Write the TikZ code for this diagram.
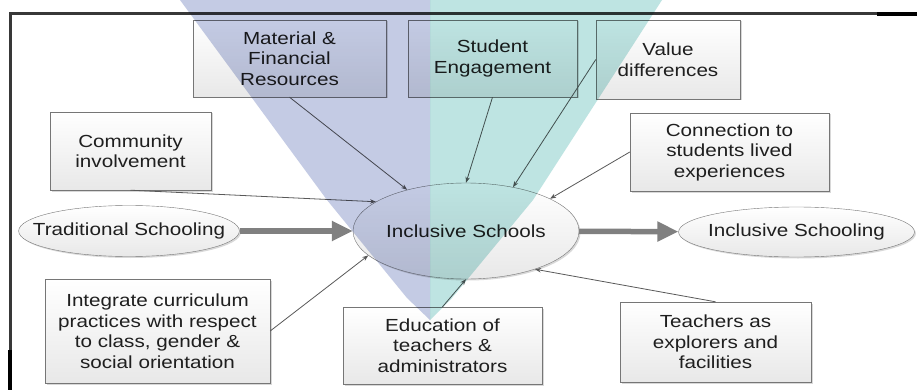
\documentclass[tikz,border=0pt]{standalone}
\usepackage{fontspec}
\setmainfont{Liberation Sans}[FakeStretch=1.18]
\usetikzlibrary{arrows.meta,positioning,shapes,shadows}

\definecolor{boxline}{RGB}{118,118,118}
\definecolor{flowgray}{RGB}{128,128,128}
\definecolor{wmblue}{RGB}{196,203,228}
\definecolor{wmteal}{RGB}{190,228,226}

\tikzset{
  box/.style={draw=boxline,rectangle,align=center,inner sep=0pt,
    top color=white,bottom color=black!9,text=black!88,
    drop shadow={shadow xshift=1.5pt,shadow yshift=-1.5pt,opacity=.3},
    font=\fontsize{17.5}{20.5}\selectfont},
  oval/.style={box,ellipse},
  link/.style={-{Stealth[length=6pt,width=4.5pt]},draw=black!65,line width=.8pt},
  flow/.style={-{Triangle[length=21pt,width=19pt]},draw=flowgray,line width=5.5pt}
}

\begin{document}
\begin{tikzpicture}[x=1pt,y=-1pt]
\useasboundingbox (0,0) rectangle (917,390);
\fill[white] (0,0) rectangle (917,390);

% frame
\draw[line width=3pt,black!78] (10,390) -- (10,14) -- (917,14);
\draw[line width=3.5pt,black] (877,14) -- (917,14);
\draw[line width=3.5pt,black] (10,350) -- (10,390);

% factors
\node[box,minimum width=193pt,minimum height=77pt] (mat) at (289.5,58.5) {Material \&\\Financial\\Resources};
\node[box,minimum width=169pt,minimum height=77pt] (eng) at (492.5,58.5) {Student\\Engagement};
\node[box,minimum width=144pt,minimum height=79pt] (val) at (668,59.5) {Value\\differences};
\node[box,minimum width=161pt,minimum height=78pt] (com) at (130.5,151) {Community\\involvement};
\node[box,minimum width=199pt,minimum height=78pt] (con) at (729.5,152) {Connection to\\students lived\\experiences};
\node[box,minimum width=225pt,minimum height=104pt] (intg) at (157.5,331) {Integrate curriculum\\practices with respect\\to class, gender \&\\social orientation};
\node[box,minimum width=199pt,minimum height=77pt] (edu) at (442.5,345.5) {Education of\\teachers \&\\administrators};
\node[box,minimum width=191pt,minimum height=80pt] (tea) at (715.5,342) {Teachers as\\explorers and\\facilities};

% schooling
\node[oval,inner xsep=-18pt,minimum height=51pt] (trad) at (129,231) {Traditional Schooling};
\node[oval,minimum width=226pt,minimum height=96pt] (inc) at (466,231) {Inclusive Schools};
\node[oval,inner xsep=-5pt,minimum width=235pt,minimum height=50pt] (out) at (796.5,232) {Inclusive Schooling};

\draw[flow] (trad) -- (inc);
\draw[flow] (inc) -- (out);

\draw[link] (mat.south) -- (inc.145);
\draw[link] (com.south) -- (inc.162);
\draw[link] (eng.south) -- (inc.north);
\draw[link] (val.west) -- (inc.43);
\draw[link] (con.west) -- (inc.21);
\draw[link] (intg.east) -- (inc.194);
\draw[link] (edu.north) -- (inc.south);
\draw[link] (tea.north) -- (inc.331);

% logo behind the print
\begin{scope}[blend mode=multiply]
\fill[wmblue] (180,0) -- (430,0) -- (430,320) -- (407,298) -- (327,200) -- cycle;
\fill[wmteal] (430,0) -- (662,0) -- (533,200) -- (452,298) -- (430,320) -- cycle;
\end{scope}
\end{tikzpicture}
\end{document}
